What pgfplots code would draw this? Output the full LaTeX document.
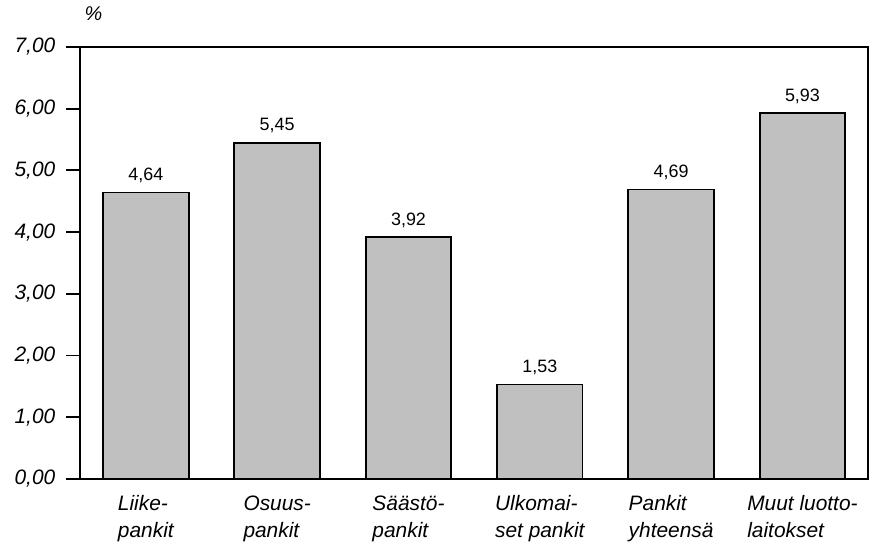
\documentclass[border={4pt 0pt 0pt 0pt}]{standalone}
\usepackage{pgfplots}
\pgfplotsset{compat=1.18}
\usepackage{fontspec}
\setmainfont{Liberation Sans}
\definecolor{barfill}{RGB}{192,192,192}

\begin{document}
\begin{tikzpicture}
\begin{axis}[
    scale only axis,
    width=396pt, height=217pt,
    xmin=-0.5, xmax=5.5,
    ymin=0, ymax=7,
    axis line style={line width=0.9pt},
    ytick={0,1,...,7},
    xtick={0,1,2,3,4,5},
    xticklabels={{Liike-\\pankit},{Osuus-\\pankit},{Säästö-\\pankit},{Ulkomai-\\set pankit},{Pankit\\yhteensä},{Muut luotto-\\laitokset}},
    x tick label style={align=left, font=\itshape\fontsize{10.5}{13.5}\selectfont, yshift=2pt},
    y tick label style={font=\itshape\fontsize{10.5}{12}\selectfont, xshift=-2pt},
    major x tick style={draw=none},
    ytick pos=left,
    tick align=outside,
    major tick length=7pt,
    major tick style={line width=0.9pt, black},
    /pgf/number format/assume math mode=true,
    yticklabel={\pgfmathprintnumber[fixed, fixed zerofill, precision=2, use comma]{\tick}},
    ybar, bar width=43pt,
    nodes near coords={\pgfmathprintnumber[fixed, fixed zerofill, precision=2, use comma]{\pgfplotspointmeta}},
    nodes near coords style={font=\fontsize{9}{11}\selectfont, yshift=1pt},
    clip=false,
]
\addplot[fill=barfill, draw=black, line width=0.9pt] coordinates {
    (0,4.64) (1,5.45) (2,3.92) (3,1.53) (4,4.69) (5,5.93)
};
\node[anchor=south, font=\itshape\fontsize{10}{12}\selectfont] at (rel axis cs:0.017,1.045) {\%};
\end{axis}
\end{tikzpicture}
\end{document}
